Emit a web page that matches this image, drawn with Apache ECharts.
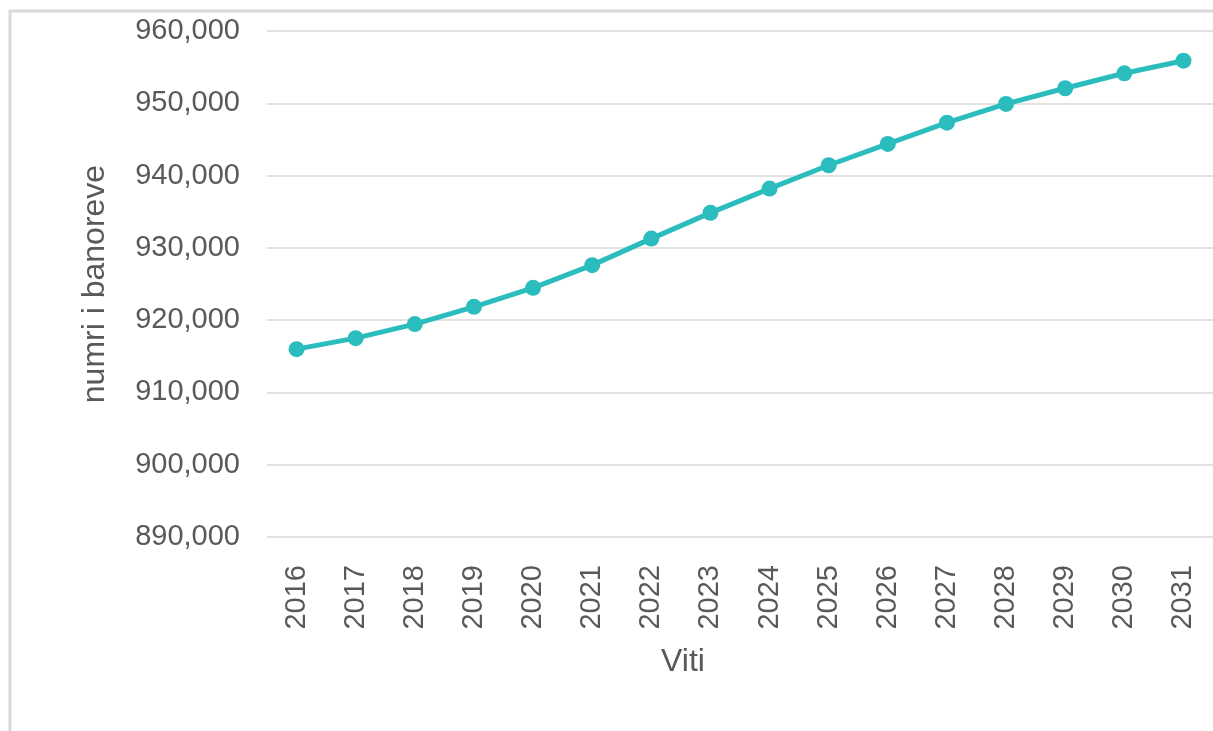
<!DOCTYPE html>
<html>
<head>
<meta charset="utf-8">
<script src="https://cdn.jsdelivr.net/npm/echarts@6/dist/echarts.min.js"></script>
<style>
html,body{margin:0;padding:0;background:#fff;}
#chart{width:1213px;height:731px;}
</style>
</head>
<body>
<div id="chart"></div>
<script>
var years = ['2016','2017','2018','2019','2020','2021','2022','2023','2024','2025','2026','2027','2028','2029','2030','2031'];
var population = [915990, 917510, 919450, 921840, 924470, 927610, 931280, 934840, 938200, 941430, 944380, 947320, 949910, 952080, 954150, 955890];
var yMin = 890000, yMax = 960000, yStep = 10000;
var yAxisTitle = 'numri i banoreve';
var xAxisTitle = 'Viti';

var FONT = '"Liberation Sans", Arial, sans-serif';
var chart = echarts.init(document.getElementById('chart'), null, {renderer:'canvas'});
chart.setOption({
  backgroundColor: '#ffffff',
  animation: false,
  grid: {left: 267, right: -1, top: 31, bottom: 194, containLabel: false},
  graphic: [
    {type:'rect', shape:{x:10, y:11, width:1400, height:900}, style:{fill:'none', stroke:'#d9d9d9', lineWidth:3}, silent:true, z:-1},
    {type:'text', x:683, y:662, style:{text:xAxisTitle, font:'32px ' + FONT, fill:'#595959', align:'center', verticalAlign:'middle'}}
  ],
  xAxis: {
    type:'category',
    data: years,
    boundaryGap: true,
    axisLine:{show:false},
    axisTick:{show:false},
    axisLabel:{rotate:90, margin:28, fontSize:29, color:'#595959', fontFamily:FONT}
  },
  yAxis: {
    type:'value',
    min:yMin, max:yMax, interval:yStep,
    name: yAxisTitle,
    nameLocation:'middle',
    nameGap:156,
    nameTextStyle:{fontSize:32, color:'#595959', fontFamily:FONT},
    axisLine:{show:false},
    axisTick:{show:false},
    axisLabel:{margin:27, fontSize:29, color:'#595959', fontFamily:FONT,
      formatter:function(v){return v.toLocaleString('en-US');}},
    splitLine:{lineStyle:{color:'#d9d9d9', width:1.5}}
  },
  series: [{
    type:'line',
    data: population,
    symbol:'circle',
    symbolSize:16,
    lineStyle:{color:'#2bbdbd', width:5},
    itemStyle:{color:'#2bbdbd'}
  }]
});
</script>
</body>
</html>
